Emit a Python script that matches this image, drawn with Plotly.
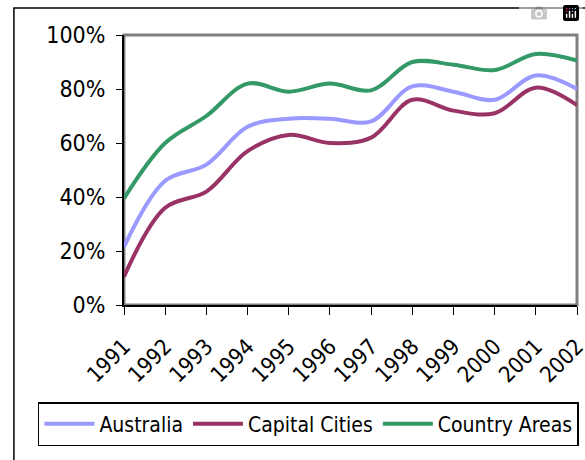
import plotly.graph_objects as go

years = [str(y) for y in range(1991, 2003)]
australia = [21.5, 46, 52, 66, 69, 69, 68, 81, 79, 76, 85, 80]
capital_cities = [10.5, 36, 42, 57, 63, 60, 62, 76, 72, 71, 80.5, 74]
country_areas = [39.5, 60, 70, 82, 79, 82, 79.5, 90, 89, 87, 93, 90.5]
y_ticks = [0, 20, 40, 60, 80, 100]
y_tick_labels = ["0%", "20%", "40%", "60%", "80%", "100%"]

FONT = "DejaVu Sans Condensed"

fig = go.Figure()
series = [
    ("Australia", australia, "#9999FF"),
    ("Capital Cities", capital_cities, "#993366"),
    ("Country Areas", country_areas, "#339966"),
]
for name, vals, color in series:
    fig.add_trace(go.Scatter(
        x=list(range(len(years))), y=vals, name=name, mode="lines",
        line=dict(color=color, width=4, shape="spline", smoothing=1.0),
    ))

fig.update_layout(
    width=585, height=460,
    margin=dict(l=124, r=8, t=35, b=155, autoexpand=False),
    paper_bgcolor="white", plot_bgcolor="white",
    font=dict(family=FONT, size=23, color="black"),
    showlegend=True,
    legend=dict(
        orientation="h", x=-0.19, y=-0.36, xanchor="left", yanchor="top",
        bordercolor="black", borderwidth=1.5, bgcolor="white",
        font=dict(family=FONT, size=21, color="black"),
        itemwidth=50, tracegroupgap=0,
    ),
    xaxis=dict(
        range=[0, len(years) - 1], automargin=False,
        tickmode="array", tickvals=list(range(len(years))), ticktext=years,
        tickangle=-45, ticks="outside", ticklen=8, tickcolor="black",
        ticklabelstandoff=10, tickfont=dict(size=22), ticklabeloverflow="allow",
        showline=True, linecolor="black", linewidth=2, showgrid=False,
        zeroline=False, fixedrange=True,
    ),
    yaxis=dict(
        range=[0, 100], automargin=False,
        tickmode="array", tickvals=y_ticks, ticktext=y_tick_labels,
        ticks="outside", ticklen=6, tickcolor="black",
        ticklabelstandoff=6,
        showline=True, linecolor="black", linewidth=2, showgrid=False,
        zeroline=False, fixedrange=True,
    ),
    shapes=[
        dict(type="rect", xref="x domain", yref="y domain", x0=0, x1=1, y0=0, y1=1,
             line=dict(color="#808080", width=3), layer="below"),
        dict(type="rect", xref="paper", yref="paper", x0=-0.243, x1=2, y0=1.1, y1=-2,
             line=dict(color="black", width=1.5), layer="below"),
    ],
)

fig.write_html(
    "out.html",
    post_script="document.body.style.margin='0';"
                "document.documentElement.style.overflow='hidden';"
                "document.body.style.overflow='hidden';",
)
